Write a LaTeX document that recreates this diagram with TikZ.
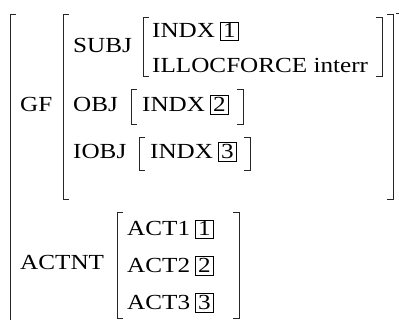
\documentclass[tikz,border=0pt]{standalone}
\usepackage{fontspec}
\setmainfont{Liberation Serif}[FakeStretch=1.17]
\begin{document}
\begin{tikzpicture}[x=1pt,y=-1pt,
  lbl/.style={anchor=base west,inner sep=0pt,font=\fontsize{21.5}{26}\selectfont},
  tagbox/.style={anchor=base west,draw,line width=0.6pt,inner xsep=2.5pt,inner ysep=2pt,xshift=5pt,font=\fontsize{21.5}{26}\selectfont},
  brk/.style={line width=0.8pt,draw=black!85}]
\useasboundingbox (0,0) rectangle (399,320);
% outer brackets
\draw[brk] (16,14) -- (10,14) -- (10,322);
\draw[brk] (396,13) -- (401,13);
% labels
\node[lbl] (gf) at (20,112) {GF};
\node[lbl] (actnt) at (20,270) {ACTNT};
% GF bracket
\draw[brk] (69,14) -- (63,14) -- (63,199) -- (69,199);
\draw[brk] (387,14) -- (393,14) -- (393,199) -- (387,199);
% SUBJ
\node[lbl] (subj) at (73,53) {SUBJ};
\draw[brk] (149,17) -- (143,17) -- (143,76) -- (149,76);
\draw[brk] (376,17) -- (382,17) -- (382,76) -- (376,76);
\node[lbl] (indx1) at (152,38) {INDX};
\node[tagbox] (t1) at (indx1.base east) {1};
\node[lbl] (illoc) at (152,73) {ILLOCFORCE interr};
% OBJ
\node[lbl] (obj) at (73,112) {OBJ};
\draw[brk] (137,89) -- (131,89) -- (131,124) -- (137,124);
\draw[brk] (237,89) -- (243,89) -- (243,124) -- (237,124);
\node[lbl] (indx2) at (142,112) {INDX};
\node[tagbox] (t2) at (indx2.base east) {2};
% IOBJ
\node[lbl] (iobj) at (73,159) {IOBJ};
\draw[brk] (145,137) -- (139,137) -- (139,170) -- (145,170);
\draw[brk] (244,137) -- (250,137) -- (250,170) -- (244,170);
\node[lbl] (indx3) at (150,159) {INDX};
\node[tagbox] (t3) at (indx3.base east) {3};
% ACTNT
\draw[brk] (123,212) -- (117,212) -- (117,318) -- (123,318);
\draw[brk] (233,212) -- (239,212) -- (239,318) -- (233,318);
\node[lbl] (act1) at (127,236) {ACT1};
\node[tagbox] (a1) at (act1.base east) {1};
\node[lbl] (act2) at (127,273) {ACT2};
\node[tagbox] (a2) at (act2.base east) {2};
\node[lbl] (act3) at (127,310) {ACT3};
\node[tagbox] (a3) at (act3.base east) {3};
\end{tikzpicture}
\end{document}
